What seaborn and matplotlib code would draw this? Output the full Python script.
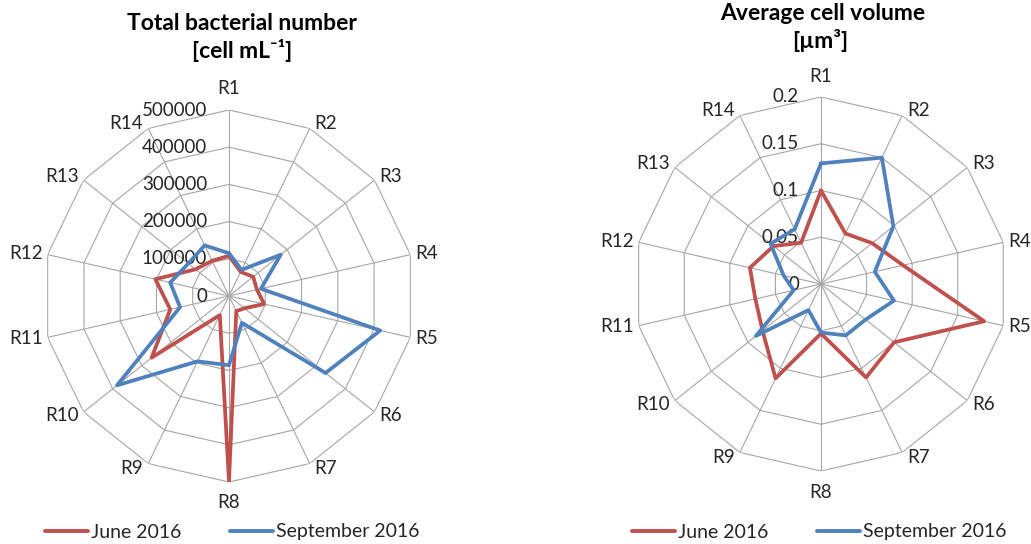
import numpy as np
import pandas as pd
import matplotlib
matplotlib.use("Agg")
import matplotlib.pyplot as plt
import matplotlib.transforms as mtransforms
from matplotlib.lines import Line2D
import seaborn as sns

sns.set_style("white")
plt.rcParams['font.family'] = ['Lato', 'DejaVu Sans']

# data
regions = ['R1', 'R2', 'R3', 'R4', 'R5', 'R6', 'R7', 'R8', 'R9', 'R10', 'R11', 'R12', 'R13', 'R14']
bact_june = [108000, 72000, 83000, 77000, 97000, 53000, 45000, 498000, 57000, 266000, 162000, 203000, 115000, 105000]
bact_sept = [115000, 78000, 178000, 88000, 417000, 332000, 80000, 186000, 195000, 385000, 135000, 162000, 140000, 151000]
vol_june = [0.100, 0.060, 0.070, 0.090, 0.179, 0.100, 0.111, 0.053, 0.112, 0.080, 0.072, 0.078, 0.065, 0.049]
vol_sept = [0.129, 0.150, 0.099, 0.059, 0.080, 0.061, 0.061, 0.052, 0.031, 0.089, 0.030, 0.041, 0.069, 0.065]
bact_ticks = [0, 100000, 200000, 300000, 400000, 500000]
vol_ticks = [0, 0.05, 0.1, 0.15, 0.2]
vol_tick_labels = ['0', '0.05', '0.1', '0.15', '0.2']
series_names = ['June 2016', 'September 2016']
colors = {'June 2016': '#C0504D', 'September 2016': '#4F81BD'}
grid_col = '#A6A6A6'
text_col = '#262626'

n = len(regions)
angles = np.linspace(0, 2 * np.pi, n, endpoint=False)
angles_closed = np.append(angles, 2 * np.pi)


def radar(ax, june, sept, ticks, tick_labels):
    rmax = ticks[-1]
    ax.set_theta_zero_location('N')
    ax.set_theta_direction(-1)
    ax.grid(False)
    ax.spines['polar'].set_visible(False)
    ax.set_xticks([])
    ax.set_yticks([])
    # polygon grid
    for t in ticks[1:]:
        ax.plot(angles_closed, [t] * (n + 1), color=grid_col, lw=0.8, zorder=1)
    for a in angles:
        ax.plot([a, a], [0, rmax], color=grid_col, lw=0.8, zorder=1)
    # series
    rows = []
    for name, vals in zip(series_names, [june, sept]):
        closed = list(vals) + [vals[0]]
        for th, v in zip(angles_closed, closed):
            rows.append({'theta': th, 'value': v, 'series': name})
    df = pd.DataFrame(rows)
    sns.lineplot(data=df, x='theta', y='value', hue='series', palette=colors,
                 sort=False, estimator=None, lw=2.7, legend=False, ax=ax, zorder=3)
    ax.set_xlabel('')
    ax.set_ylabel('')
    ax.set_ylim(0, rmax)
    # radial tick labels along R1
    off = mtransforms.offset_copy(ax.transData, fig=ax.figure, x=-22, y=0, units='dots')
    for t, lab in zip(ticks, tick_labels):
        ax.text(0, t, lab, transform=off, ha='right', va='center', fontsize=13.5,
                color=text_col, zorder=2)
    # category labels just outside the polygon tips
    for a, lab in zip(angles, regions):
        s, c = np.sin(a), np.cos(a)
        if abs(s) < 0.1:
            ha, dx, dy = 'center', 0, 21 * np.sign(c)
        else:
            ha = 'left' if s > 0 else 'right'
            dx, dy = 5 * np.sign(s), 6 * c
        ax.annotate(lab, xy=(a, rmax), xytext=(dx, dy), textcoords='offset pixels',
                    ha=ha, va='center', fontsize=13.5, color=text_col,
                    annotation_clip=False)


fig = plt.figure(figsize=(10.31, 5.44), dpi=100)
W, H = 1031, 544

cx, cy, R = 229, 296, 186
ax1 = fig.add_axes([(cx - R) / W, (H - cy - R) / H, 2 * R / W, 2 * R / H], projection='polar')
radar(ax1, bact_june, bact_sept, bact_ticks, [str(t) for t in bact_ticks])

cx2, cy2, R2 = 821, 284, 187
ax2 = fig.add_axes([(cx2 - R2) / W, (H - cy2 - R2) / H, 2 * R2 / W, 2 * R2 / H], projection='polar')
radar(ax2, vol_june, vol_sept, vol_ticks, vol_tick_labels)

# titles
fig.text(242 / W, 1 - 24 / H, 'Total bacterial number', ha='center', va='center',
         fontsize=16.5, fontweight='bold', color='black')
fig.text(242 / W, 1 - 50 / H, '[cell mL⁻¹]', ha='center', va='center',
         fontsize=16.5, fontweight='bold', color='black')
fig.text(823 / W, 1 - 14 / H, 'Average cell volume', ha='center', va='center',
         fontsize=16.5, fontweight='bold', color='black')
fig.text(820 / W, 1 - 41 / H, '[µm³]', ha='center', va='center',
         fontsize=16.5, fontweight='bold', color='black')

# legends
handles = [Line2D([], [], color=colors[s], lw=2.8) for s in series_names]
for xc in [232 / W, 819 / W]:
    leg = fig.legend(handles, series_names, loc='center', bbox_to_anchor=(xc, 1 - 532 / H),
                     ncol=2, frameon=False, fontsize=14, handlelength=2.25,
                     handletextpad=0.12, columnspacing=2.5, borderpad=0)
    for t in leg.get_texts():
        t.set_color(text_col)

fig.savefig('out.png', dpi=100)
